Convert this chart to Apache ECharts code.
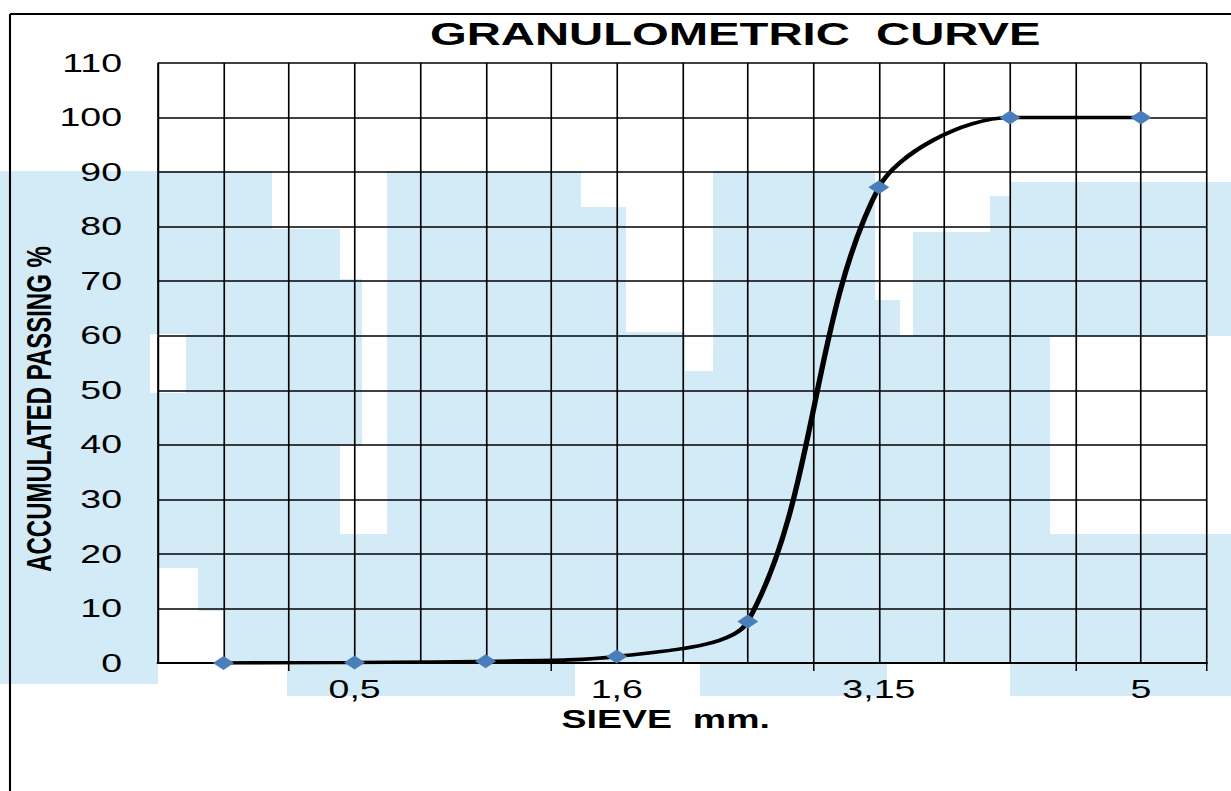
<!DOCTYPE html>
<html>
<head>
<meta charset="utf-8">
<title>Granulometric curve</title>
<script src="https://cdn.jsdelivr.net/npm/echarts@6/dist/echarts.min.js"></script>
<style>
html,body{margin:0;padding:0;background:#fff;overflow:hidden;}
/* the source picture is stretched 1.5x horizontally, so draw narrow and stretch */
#chart{width:820.67px;height:791px;transform:scaleX(1.5);transform-origin:0 0;}
</style>
</head>
<body>
<div id="chart"></div>
<script>
// data
var sieves = ['0,25', '0,5', '1', '1,6', '2,5', '3,15', '4', '5'];
var passing = [0, 0.1, 0.3, 1.2, 7.6, 87.2, 100, 100];
var yMin = 0, yMax = 110, yStep = 10;

var S = 1.5; // horizontal stretch
var FONT = '"Liberation Sans", Arial, sans-serif';

// half steps -> extra vertical grid lines in the middle of each category
var halfSteps = [];
for (var i = 0; i < sieves.length; i++) {
    halfSteps.push(sieves[i] + '_a');
    halfSteps.push(sieves[i] + '_b');
}

// rough light blue watermark blocks behind the plot (screen px: x, y, w, h)
var wm = [
    [0,171,272,58],[0,229,340,50],[0,279,362,55],[0,334,150,59],[186,334,176,59],
    [0,393,362,53],[0,446,340,88],[387,171,194,363],[581,207,45,327],[626,332,59,202],
    [685,371,28,163],[713,171,162,363],[875,300,25,234],[913,232,318,104],[990,196,241,36],
    [1010,182,221,14],[900,336,150,198],[0,534,1231,34],[0,568,158,116],[198,568,1033,43],
    [225,611,1006,53],[287,664,288,32],[700,664,187,32],[1010,664,221,32]
];

var elements = [];
for (var k = 0; k < wm.length; k++) {
    elements.push({
        type: 'rect', silent: true, z: -10,
        shape: {x: wm[k][0] / S, y: wm[k][1], width: wm[k][2] / S, height: wm[k][3]},
        style: {fill: '#d3ebf6'}
    });
}
// outer frame (only left and top edges are visible)
elements.push({type: 'line', silent: true, z: 50,
    shape: {x1: 10 / S, y1: 14, x2: 1231 / S, y2: 14}, style: {stroke: '#000', lineWidth: 2}});
elements.push({type: 'line', silent: true, z: 50,
    shape: {x1: 10 / S, y1: 14, x2: 10 / S, y2: 791}, style: {stroke: '#000', lineWidth: 1.4}});
// y axis title
elements.push({type: 'text', silent: true, z: 50, x: 38 / S, y: 409, rotation: Math.PI / 2,
    style: {text: 'ACCUMULATED PASSING %', font: 'bold 24px ' + FONT, fill: '#000',
        align: 'center', verticalAlign: 'middle'}});

var chart = echarts.init(document.getElementById('chart'), null, {renderer: 'svg'});
chart.setOption({
    animation: false,
    backgroundColor: 'transparent',
    title: {
        text: 'GRANULOMETRIC  CURVE',
        left: 430 / S, top: 18, padding: 0,
        textStyle: {fontFamily: FONT, fontWeight: 'bold', fontSize: 31.5, color: '#000'}
    },
    grid: {left: 158 / S, right: (1231 - 1206) / S, top: 63, bottom: 791 - 663, containLabel: false},
    xAxis: [{
        type: 'category',
        data: sieves,
        boundaryGap: true,
        name: 'SIEVE  mm.',
        nameLocation: 'middle',
        nameGap: 40,
        nameTextStyle: {fontFamily: FONT, fontWeight: 'bold', fontSize: 25, color: '#000', padding: [0, 22, 0, 0]},
        axisLine: {lineStyle: {color: '#000', width: 2}},
        axisTick: {show: true, length: 8, lineStyle: {color: '#000', width: 1}},
        axisLabel: {
            interval: function (idx) { return idx % 2 === 1; },
            margin: 14, fontFamily: FONT, fontSize: 25, color: '#000'
        },
        splitLine: {show: false}
    }, {
        type: 'category',
        data: halfSteps,
        position: 'top',
        boundaryGap: true,
        axisLine: {show: false},
        axisTick: {show: false},
        axisLabel: {show: false},
        splitLine: {show: true, interval: 0, lineStyle: {color: '#000', width: 1.1}}
    }],
    yAxis: {
        type: 'value',
        min: yMin, max: yMax, interval: yStep,
        axisLine: {show: true, lineStyle: {color: '#000', width: 1.2}},
        axisTick: {show: false},
        axisLabel: {margin: 24, fontFamily: FONT, fontSize: 25, color: '#000'},
        splitLine: {show: true, lineStyle: {color: '#000', width: 1.6}}
    },
    graphic: {elements: elements},
    series: [{
        type: 'line',
        data: passing,
        xAxisIndex: 0,
        smooth: 0.32,
        symbol: 'diamond',
        symbolSize: [14, 14],
        showSymbol: true,
        lineStyle: {color: '#000', width: 3.6},
        itemStyle: {color: '#4a7ebb', borderWidth: 0},
        z: 5
    }]
});
</script>
</body>
</html>
